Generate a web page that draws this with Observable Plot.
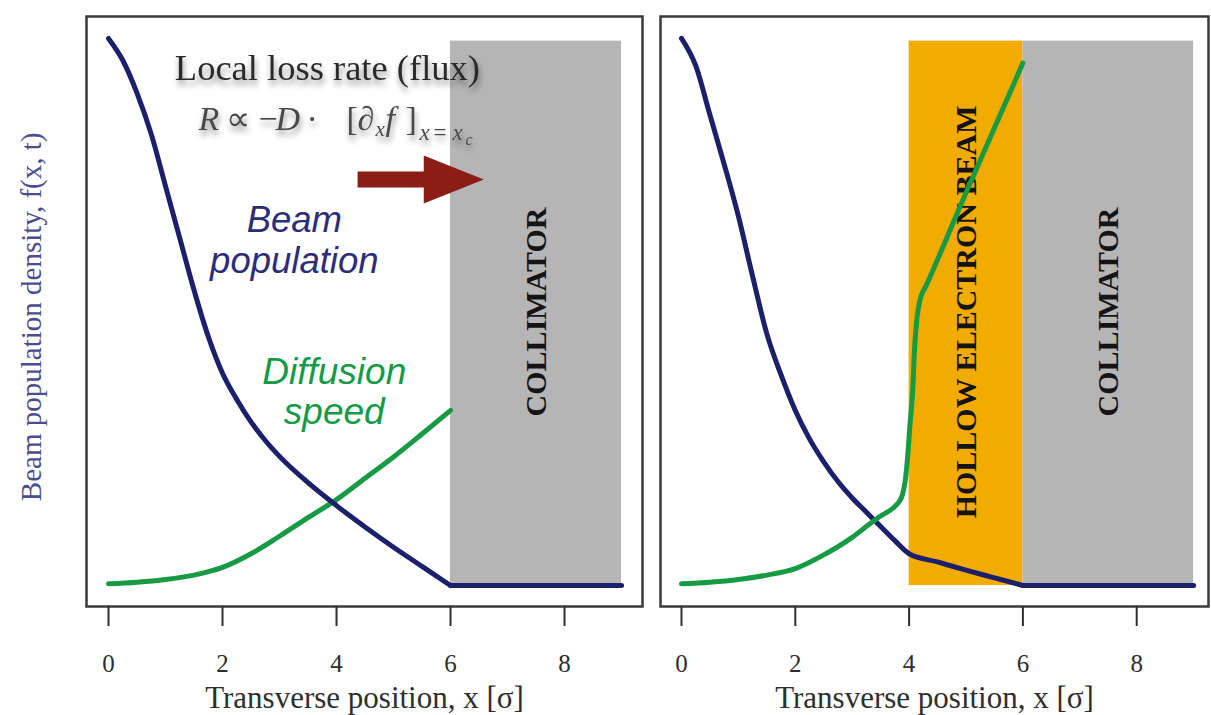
<!DOCTYPE html>
<html>
<head>
<meta charset="utf-8">
<script src="https://cdn.jsdelivr.net/npm/d3@7"></script>
<script src="https://cdn.jsdelivr.net/npm/@observablehq/plot@0.6"></script>
<style>
  body { margin: 0; background: #fff; }
  #wrap { display: flex; width: 1211px; height: 715px; overflow: hidden; background: #fff; }
  #wrap svg { display: block; flex: none; }
</style>
</head>
<body>
<div id="wrap"></div>
<script>
// ---------- data ----------
const xTicks = [0, 2, 4, 6, 8];
const xTitle = "Transverse position, x [σ]";
const yTitle = "Beam population density, f(x, t)";
const collimatorLabel = "COLLIMATOR";
const hollowLabel = "HOLLOW ELECTRON BEAM";
const fluxTitle = "Local loss rate (flux)";
const formulaText = "R ∝ −D · [∂xf]x=xc";
const beamLabel = "Beam\npopulation";
const diffLabel = "Diffusion\nspeed";

// left panel: no hollow beam
const blueLeftX = [0, 0.25, 0.5, 0.75, 1.0, 1.25, 1.5, 1.75, 2.0, 2.25, 2.5, 2.75, 3.0, 3.5, 4.0, 4.5, 5.0, 5.5, 6.0, 7.0, 8.0, 9.0];
const blueLeftY = [1.0, 0.96, 0.9, 0.825, 0.73, 0.635, 0.54, 0.455, 0.388, 0.34, 0.299, 0.265, 0.236, 0.188, 0.146, 0.107, 0.07, 0.035, 0, 0, 0, 0];
const greenLeftX = [0, 0.5, 1.0, 1.5, 2.0, 2.5, 3.0, 3.5, 4.0, 4.5, 5.0, 5.5, 6.0];
const greenLeftY = [0.003, 0.006, 0.011, 0.019, 0.033, 0.058, 0.09, 0.124, 0.157, 0.196, 0.235, 0.277, 0.32];

// right panel: with hollow electron beam
const blueRightX = [0, 0.25, 0.5, 0.75, 1.0, 1.25, 1.5, 1.75, 2.0, 2.25, 2.5, 2.75, 3.0, 3.25, 3.5, 3.75, 4.0, 4.5, 5.0, 5.5, 6.0, 7.0, 8.0, 9.0];
const blueRightY = [1.0, 0.95, 0.86, 0.77, 0.675, 0.565, 0.46, 0.385, 0.32, 0.268, 0.226, 0.19, 0.16, 0.134, 0.108, 0.082, 0.058, 0.043, 0.028, 0.014, 0, 0, 0, 0];
const greenRightX = [0, 0.5, 1.0, 1.5, 2.0, 2.5, 3.0, 3.3, 3.5, 3.7, 3.8, 3.88, 3.93, 3.97, 4.02, 4.06, 4.1, 4.14, 4.2, 4.3, 5.0, 6.0];
const greenRightY = [0.003, 0.006, 0.011, 0.019, 0.031, 0.056, 0.088, 0.112, 0.127, 0.14, 0.15, 0.165, 0.19, 0.23, 0.3, 0.35, 0.44, 0.49, 0.525, 0.548, 0.718, 0.955];

// shaded regions [x1, x2, y1, y2]
const collimatorBox = [6, 9, 0, 0.995];
const hollowBox = [4, 6, 0, 0.995];
// flux arrow: shaft start, shaft end, head base, level
const fluxArrow = [4.37, 5.6, 5.53, 0.742];

// ---------- helpers ----------
const pts = (xs, ys) => xs.map((x, i) => ({x, y: ys[i]}));
const box = (b) => [{x1: b[0], x2: b[1], y1: b[2], y2: b[3]}];
const edge = collimatorBox[0]; // population is absorbed from the collimator edge on

const BLUE = "#1c1f6c";
const GREEN = "#179a44";
const GRAY = "#b5b5b5";
const ORANGE = "#f2ab00";
const RED = "#8b1d16";
const SERIF = "'Liberation Serif', 'Times New Roman', serif";
const SANS = "'Liberation Sans', Arial, sans-serif";

const headSymbol = {
  draw(ctx) { ctx.moveTo(0, -24); ctx.lineTo(60, 0); ctx.lineTo(0, 24); ctx.closePath(); }
};

const yDomain = [-0.0384, 1.040];

function blueMarks(xs, ys) {
  const all = pts(xs, ys);
  const opts = {x: "x", y: "y", stroke: BLUE, strokeWidth: 5, strokeLinecap: "round", strokeLinejoin: "round"};
  return [
    Plot.line(all.filter(d => d.x <= edge), {...opts, curve: "monotone-x"}),
    Plot.line(all.filter(d => d.x >= edge), {...opts, curve: "linear"})
  ];
}

function commonMarks() {
  return [
    Plot.frame({stroke: "#3a3a3a", strokeWidth: 2.5}),
    Plot.axisX(xTicks, {tickSize: 20, tickPadding: 28, fontSize: 25, strokeWidth: 2, color: "#2e2e2e", label: null, fontFamily: SERIF}),
    Plot.text([xTitle], {frameAnchor: "bottom", dy: 101, lineAnchor: "bottom", fontSize: 31, fill: "#2e2e2e", fontFamily: SERIF})
  ];
}

// ---------- left panel ----------
const left = Plot.plot({
  width: 650, height: 715,
  marginLeft: 86, marginRight: 8, marginTop: 16, marginBottom: 109,
  x: {domain: [-0.386, 9.368]},
  y: {domain: yDomain, axis: null},
  style: {background: "white", fontFamily: SERIF, overflow: "visible"},
  marks: [
    Plot.rect(box(collimatorBox), {x1: "x1", x2: "x2", y1: "y1", y2: "y2", fill: GRAY}),
    Plot.text([collimatorLabel], {x: (collimatorBox[0] + collimatorBox[1]) / 2, y: 0.5, rotate: -90, fontSize: 30, fontWeight: "bold", fill: "#141414", fontFamily: SERIF}),
    Plot.line(pts(greenLeftX, greenLeftY), {x: "x", y: "y", stroke: GREEN, strokeWidth: 5, curve: "monotone-x", strokeLinecap: "round"}),
    ...blueMarks(blueLeftX, blueLeftY),
    ...commonMarks(),
    Plot.text([yTitle], {x: -1.351, y: 0.491, rotate: -90, textAnchor: "middle", fontSize: 29, fill: "#4a4e8c", fontFamily: SERIF}),
    Plot.text([fluxTitle], {x: 3.84, y: 0.9232, lineAnchor: "bottom", fontSize: 36.5, fill: "#2a2a2a", fontFamily: SERIF}),
    Plot.text([formulaText], {x: 1.58, y: 0.8318, lineAnchor: "bottom", textAnchor: "start", fontSize: 34, fill: "#4a4a4a", fontFamily: SERIF}),
    Plot.link([fluxArrow], {x1: d => d[0], x2: d => d[1], y1: d => d[3], y2: d => d[3], stroke: RED, strokeWidth: 16}),
    Plot.dot([fluxArrow], {x: d => d[2], y: d => d[3], symbol: headSymbol, fill: RED, stroke: "none", r: 1}),
    Plot.text([beamLabel], {x: 3.26, y: 0.572, lineAnchor: "bottom", lineHeight: 1.11, fontSize: 36.5, fontStyle: "italic", fill: "#2b2d78", fontFamily: SANS}),
    Plot.text([diffLabel], {x: 3.96, y: 0.296, lineAnchor: "bottom", lineHeight: 1.08, fontSize: 37, fontStyle: "italic", fill: "#159a48", fontFamily: SANS})
  ]
});

// ---------- right panel ----------
const right = Plot.plot({
  width: 561, height: 715,
  marginLeft: 10, marginRight: 3, marginTop: 16, marginBottom: 109,
  x: {domain: [-0.369, 9.262]},
  y: {domain: yDomain, axis: null},
  style: {background: "white", fontFamily: SERIF},
  marks: [
    Plot.rect(box(hollowBox), {x1: "x1", x2: "x2", y1: "y1", y2: "y2", fill: ORANGE}),
    Plot.rect(box(collimatorBox), {x1: "x1", x2: "x2", y1: "y1", y2: "y2", fill: GRAY}),
    Plot.text([hollowLabel], {x: (hollowBox[0] + hollowBox[1]) / 2, y: 0.5, rotate: -90, fontSize: 30, fontWeight: "bold", fill: "#141414", fontFamily: SERIF}),
    Plot.text([collimatorLabel], {x: (collimatorBox[0] + collimatorBox[1]) / 2, y: 0.5, rotate: -90, fontSize: 30, fontWeight: "bold", fill: "#141414", fontFamily: SERIF}),
    ...blueMarks(blueRightX, blueRightY),
    Plot.line(pts(greenRightX, greenRightY), {x: "x", y: "y", stroke: GREEN, strokeWidth: 5, curve: "monotone-x", strokeLinecap: "round"}),
    ...commonMarks()
  ]
});

const wrap = document.getElementById("wrap");
wrap.appendChild(left);
wrap.appendChild(right);

// ---------- formula typesetting (subscripts) and soft shadow ----------
const svgL = d3.select(left);
const defs = svgL.insert("defs", ":first-child");
const f = defs.append("filter").attr("id", "softShadow").attr("x", "-10%").attr("y", "-40%").attr("width", "120%").attr("height", "200%");
f.append("feGaussianBlur").attr("in", "SourceAlpha").attr("stdDeviation", 3).attr("result", "b");
f.append("feOffset").attr("in", "b").attr("dx", 1).attr("dy", 5).attr("result", "o");
f.append("feComponentTransfer").attr("in", "o").attr("result", "c").append("feFuncA").attr("type", "linear").attr("slope", 0.45);
const m = f.append("feMerge");
m.append("feMergeNode").attr("in", "c");
m.append("feMergeNode").attr("in", "SourceGraphic");

// glyph runs of the formula: text, italic, level (0 main, 1 sub, 2 sub, 3 sub-sub), horizontal offset
const parts = [
  {t: "R", it: true, lvl: 0, dx: 0},
  {t: "∝", lvl: 0, dx: 27},
  {t: "−", lvl: 0, dx: 60},
  {t: "D", it: true, lvl: 0, dx: 77},
  {t: "·", lvl: 0, dx: 108},
  {t: "[", lvl: 0, dx: 148},
  {t: "∂", lvl: 0, dx: 159},
  {t: "x", it: true, lvl: 1, dx: 177},
  {t: "f", it: true, lvl: 0, dx: 187},
  {t: "]", lvl: 0, dx: 207},
  {t: "x", it: true, lvl: 2, dx: 221},
  {t: "=", lvl: 2, dx: 235},
  {t: "x", it: true, lvl: 2, dx: 254},
  {t: "c", it: true, lvl: 3, dx: 267}
];
const lvlSize = [34, 21, 23, 16];
const lvlShift = [0, 6, 10, 15];
svgL.selectAll("text").filter(function () { return this.textContent === formulaText; }).each(function () {
  const t = d3.select(this);
  t.text("");
  t.style("filter", "url(#softShadow)");
  for (const p of parts) {
    t.append("tspan")
      .attr("x", p.dx)
      .attr("y", lvlShift[p.lvl])
      .attr("font-size", lvlSize[p.lvl])
      .attr("font-style", p.it ? "italic" : "normal")
      .text(p.t);
  }
});
svgL.selectAll("text").filter(function () { return this.textContent === fluxTitle; }).style("filter", "url(#softShadow)");
</script>
</body>
</html>
